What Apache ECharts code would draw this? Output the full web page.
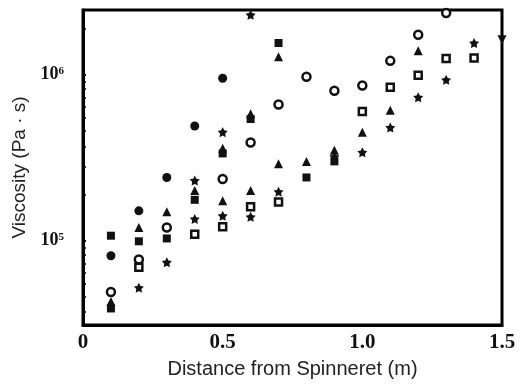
<!DOCTYPE html>
<html>
<head>
<meta charset="utf-8">
<script src="https://cdn.jsdelivr.net/npm/echarts@6/dist/echarts.min.js"></script>
<style>
  html, body { margin: 0; padding: 0; background: #fff; }
  #root { width: 528px; height: 384px; }
</style>
</head>
<body>
<div id="root"></div>
<script>
// distance (m), viscosity (Pa·s)
var filledCircle = [[0.1, 8.1e4], [0.2, 1.51e5], [0.3, 2.4e5], [0.4, 4.9e5], [0.5, 9.5e5]];
var filledSquare = [[0.1, 1.07e5], [0.1, 3.9e4], [0.2, 9.9e4], [0.3, 1.03e5], [0.4, 1.76e5],
  [0.5, 3.35e5], [0.6, 5.4e5], [0.7, 1.55e6], [0.8, 2.4e5], [0.9, 3.0e5]];
var filledTriangle = [[0.1, 4.3e4], [0.2, 1.2e5], [0.3, 1.49e5], [0.4, 2.0e5], [0.5, 3.6e5],
  [0.6, 5.8e5], [0.7, 1.28e6], [0.5, 1.74e5], [0.6, 2.0e5], [0.7, 2.9e5], [0.8, 3.0e5],
  [0.9, 3.5e5], [1.0, 4.5e5], [1.1, 6.1e5], [1.2, 1.39e6]];
var openCircle = [[0.1, 4.9e4], [0.2, 7.7e4], [0.3, 1.2e5], [0.5, 2.35e5], [0.6, 3.9e5],
  [0.7, 6.6e5], [0.8, 9.7e5], [0.9, 8.0e5], [1.0, 8.6e5], [1.1, 1.21e6], [1.2, 1.74e6], [1.3, 2.35e6]];
var openSquare = [[0.2, 6.9e4], [0.4, 1.09e5], [0.5, 1.21e5], [0.6, 1.6e5], [0.7, 1.71e5],
  [1.0, 6.0e5], [1.1, 8.4e5], [1.2, 9.9e5], [1.3, 1.25e6], [1.4, 1.26e6]];
var filledStar = [[0.2, 5.2e4], [0.3, 7.4e4], [0.4, 2.3e5], [0.4, 1.35e5], [0.5, 4.5e5],
  [0.5, 1.41e5], [0.6, 2.29e6], [0.6, 1.39e5], [0.7, 1.97e5], [0.9, 3.2e5], [1.0, 3.4e5],
  [1.1, 4.8e5], [1.2, 7.3e5], [1.3, 9.3e5], [1.4, 1.55e6]];
var downTriangle = [[1.5, 1.62e6]];

var xTicks = ['0', '0.5', '1.0', '1.5'];

// chunky five point star like the printed marker
var STAR = 'path://M50,0 L65.3,29 L97.6,34.5 L74.7,58 L79.4,90.5 L50,76 L20.6,90.5 L25.3,58 L2.4,34.5 L34.7,29 Z';
var INK = '#111';

var dom = document.getElementById('root');
var myChart = echarts.init(dom, null, { renderer: 'canvas' });

function scatter(data, symbol, size, open, rotate) {
  return {
    type: 'scatter',
    data: data,
    symbol: symbol,
    symbolSize: size,
    symbolRotate: rotate || 0,
    itemStyle: open
      ? { color: '#fff', borderColor: INK, borderWidth: 2.5, opacity: 1 }
      : { color: INK, opacity: 1 },
    emphasis: { disabled: true },
    z: open ? 3 : 2
  };
}

var option = {
  animation: false,
  grid: {
    left: 83, right: 26, top: 10, bottom: 57,
    show: true, borderColor: '#000', borderWidth: 3
  },
  xAxis: {
    type: 'value',
    min: 0, max: 1.5, interval: 0.5,
    name: 'Distance from Spinneret (m)',
    nameLocation: 'middle',
    nameGap: 34,
    nameTextStyle: { fontFamily: 'Liberation Sans', fontSize: 20, color: '#222' },
    axisLine: { lineStyle: { color: '#000', width: 3 } },
    axisTick: { show: false },
    splitLine: { show: false },
    axisLabel: {
      margin: 7,
      fontFamily: 'Liberation Serif', fontWeight: 'bold', fontSize: 21, color: '#111',
      formatter: function (v) { return xTicks[Math.round(v / 0.5)]; }
    }
  },
  yAxis: {
    type: 'log',
    logBase: 10,
    min: 3.1e4, max: 2.45e6,
    name: 'Viscosity (Pa · s)',
    nameLocation: 'middle',
    nameGap: 53,
    nameTextStyle: { fontFamily: 'Liberation Sans', fontSize: 19, color: '#222' },
    axisLine: { lineStyle: { color: '#000', width: 3 } },
    axisTick: { show: true, inside: true, length: 3, lineStyle: { color: '#000', width: 2 } },
    minorTick: { show: true, splitNumber: 10, length: 3, lineStyle: { color: '#000', width: 1.5 } },
    splitLine: { show: false },
    minorSplitLine: { show: false },
    axisLabel: {
      margin: 19,
      showMinLabel: false, showMaxLabel: false,
      formatter: function (v) {
        var e = Math.log10(v);
        if (Math.abs(e - Math.round(e)) > 1e-6) return '';
        return '{b|10}{s|' + Math.round(e) + '}';
      },
      rich: {
        b: { fontFamily: 'Liberation Serif', fontWeight: 'bold', fontSize: 18, color: '#111', lineHeight: 18 },
        s: { fontFamily: 'Liberation Serif', fontWeight: 'bold', fontSize: 11, color: '#111', verticalAlign: 'top', lineHeight: 11 }
      }
    }
  },
  series: [
    scatter(filledCircle, 'circle', 9, false),
    scatter(filledSquare, 'rect', 8, false),
    scatter(filledTriangle, 'triangle', 9, false),
    scatter(filledStar, STAR, 10, false),
    scatter(openCircle, 'circle', 8, true),
    scatter(openSquare, 'rect', 7, true),
    scatter(downTriangle, 'triangle', 9, false, 180)
  ]
};

myChart.setOption(option);
</script>
</body>
</html>
